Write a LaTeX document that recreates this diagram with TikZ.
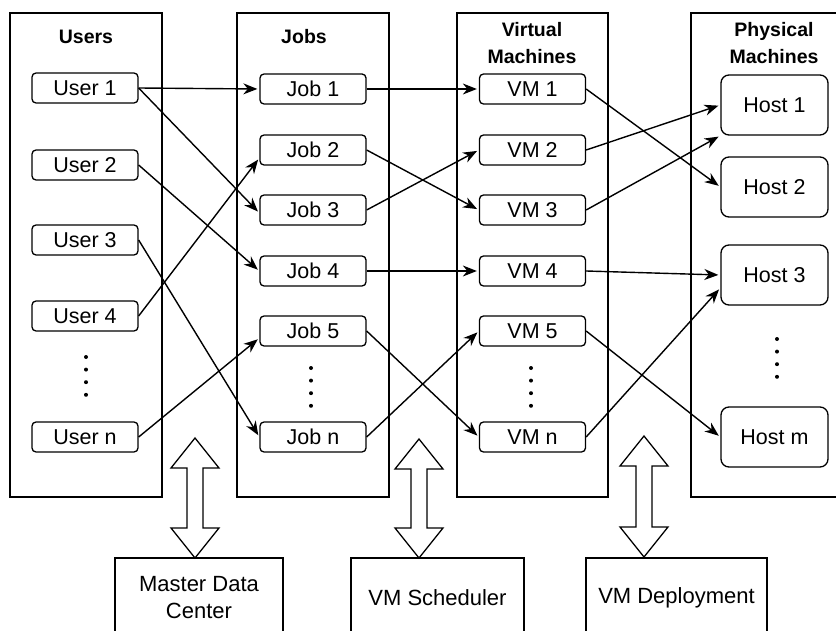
\documentclass[tikz,border=0pt]{standalone}
\usepackage{fontspec}
\setmainfont{Liberation Sans}
\usetikzlibrary{arrows.meta}

\newcommand{\updown}[3]{%
	\draw[line width=1.3pt, fill=white] (#1,#2) -- (#1+24,#2+30) -- (#1+8,#2+30) -- (#1+8,#3-30) -- (#1+24,#3-30) -- (#1,#3)
		-- (#1-24,#3-30) -- (#1-8,#3-30) -- (#1-8,#2+30) -- (#1-24,#2+30) -- cycle;}
\newcommand{\dotsdown}[2]{%
	\foreach \k in {0,...,3} \fill (#1,#2+12.6*\k) circle (2pt);}

\begin{document}
\begin{tikzpicture}[
			x=1pt, y=-1pt,
			every node/.style={font=\fontsize{21.5}{24}\selectfont},
			panel/.style={draw, line width=1.3pt, minimum width=152pt, minimum height=484pt, inner sep=0pt},
			heading/.style={font=\fontsize{19.5}{27}\selectfont\bfseries, align=center},
			entry/.style={draw, line width=1.3pt, rounded corners=4pt, minimum width=106pt, minimum height=30pt, inner sep=0pt},
			hostbox/.style={entry, rounded corners=8pt, minimum width=107pt, minimum height=60pt},
			unit/.style={draw, line width=1.3pt, minimum height=80pt, inner sep=0pt, align=center, font=\fontsize{22}{27}\selectfont},
			link/.style={-{Stealth[length=14pt, width=11pt, inset=4.5pt]}, line width=1.4pt, shorten >=2pt}
			]
			\useasboundingbox (0,0) rectangle (836,631);

			\node[panel] (users) at (86,255) {};
			\node[panel] (jobs) at (313,255) {};
			\node[panel, minimum width=151pt] (vms) at (532.5,255) {};
			\node[panel, minimum width=166pt] (pms) at (774,255) {};

			\node[heading] (usershead) at (86,37) {Users};
			\node[heading] (jobshead) at (304,37) {Jobs};
			\node[heading] (vmshead) at (532,43) {Virtual\\Machines};
			\node[heading] (pmshead) at (774,43) {Physical\\Machines};

			\node[entry] (u1) at (85,88) {User 1};
			\node[entry] (u2) at (85,165) {User 2};
			\node[entry] (u3) at (85,240) {User 3};
			\node[entry] (u4) at (85,316) {User 4};
			\node[entry] (un) at (85,437) {User n};

			\node[entry] (j1) at (313,89) {Job 1};
			\node[entry] (j2) at (313,150) {Job 2};
			\node[entry] (j3) at (313,210) {Job 3};
			\node[entry] (j4) at (313,271) {Job 4};
			\node[entry] (j5) at (313,331) {Job 5};
			\node[entry] (jn) at (313,437) {Job n};

			\node[entry] (vm1) at (532.5,89) {VM 1};
			\node[entry] (vm2) at (532.5,150) {VM 2};
			\node[entry] (vm3) at (532.5,210) {VM 3};
			\node[entry] (vm4) at (532.5,271) {VM 4};
			\node[entry] (vm5) at (532.5,331) {VM 5};
			\node[entry] (vmn) at (532.5,437) {VM n};

			\node[hostbox] (h1) at (774.5,105) {Host 1};
			\node[hostbox] (h2) at (774.5,187) {Host 2};
			\node[hostbox] (h3) at (774.5,275) {Host 3};
			\node[hostbox] (hm) at (774.5,437) {Host m};

			\dotsdown{86}{357}
			\dotsdown{311}{368}
			\dotsdown{531}{368}
			\dotsdown{777}{339}

			\foreach \a/\b in {u1/j1, u2/j4, u3/jn, j1/vm1, j2/vm3, j3/vm2, j4/vm4, j5/vmn, jn/vm5, vm1/h2, vm2/h1, vm4/h3, vm5/hm}
				\draw[link] (\a.east) -- (\b.west);
			\draw[link] (u1.east) -- ([yshift=-3pt]j3.west);
			\draw[link] (u4.east) -- ([yshift=-8pt]j2.west);
			\draw[link] (un.east) -- ([yshift=-7pt]j5.west);
			\draw[link] (vm3.east) -- (h1.south west);
			\draw[link] (vmn.east) -- ([yshift=-13pt]h3.west);

			\node[unit, minimum width=168pt] (mdc) at (199,598) {Master Data\\Center};
			\node[unit, minimum width=173pt] (sched) at (437.5,598) {VM Scheduler};
			\node[unit, minimum width=181pt] (deploy) at (676.5,598) {VM Deployment};

			\updown{195}{438}{558}
			\updown{419}{439}{558}
			\updown{644}{436}{557}
		\end{tikzpicture}
\end{document}
